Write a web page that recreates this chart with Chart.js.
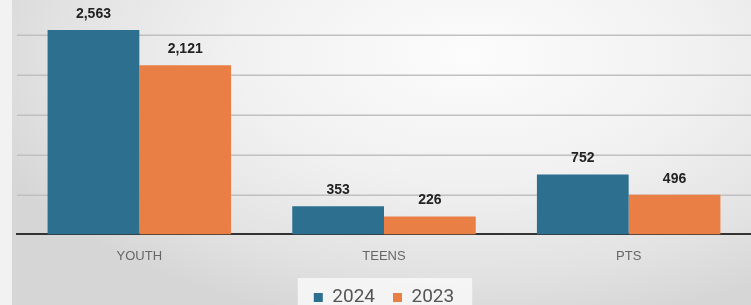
<!DOCTYPE html>
<html>
<head>
<meta charset="utf-8">
<script src="https://cdn.jsdelivr.net/npm/chart.js@4/dist/chart.umd.min.js"></script>
<style>
  html, body { margin: 0; padding: 0; }
  body { width: 751px; height: 305px; background: #f2f2f2; position: relative; overflow: hidden; }
  #bg { position: absolute; left: 12px; top: 0; width: 739px; height: 305px;
        background: radial-gradient(ellipse 70% 90% at 62% 18%, #fcfcfc 0%, #f1f1f1 45%, #e2e2e2 80%, #d6d6d6 100%); }
  #wrap { position: absolute; left: 0; top: 0; width: 751px; height: 305px; }
</style>
</head>
<body>
<div id="bg"></div>
<div id="wrap"><canvas id="c" width="751" height="305"></canvas></div>
<script>
const categories = ["YOUTH", "TEENS", "PTS"];
const seriesNames = ["2024", "2023"];
const values2024 = [2563, 353, 752];
const values2023 = [2121, 226, 496];
const gridValues = [500, 1000, 1500, 2000, 2500];

const gridLines = {
  id: 'gridLines',
  beforeDatasetsDraw(chart) {
    const y = chart.scales.y, a = chart.chartArea, ctx = chart.ctx;
    ctx.save();
    ctx.strokeStyle = '#c0c0c0';
    ctx.lineWidth = 1.5;
    gridValues.forEach(v => {
      const py = Math.round(y.getPixelForValue(v)) + 0.25;
      ctx.beginPath();
      ctx.moveTo(a.left, py);
      ctx.lineTo(a.right, py);
      ctx.stroke();
    });
    ctx.restore();
  }
};

const valueLabels = {
  id: 'valueLabels',
  afterDatasetsDraw(chart) {
    const ctx = chart.ctx;
    ctx.save();
    ctx.font = 'bold 14px "Liberation Sans", Arial, sans-serif';
    ctx.fillStyle = '#222';
    ctx.textAlign = 'center';
    ctx.textBaseline = 'middle';
    chart.data.datasets.forEach((ds, i) => {
      chart.getDatasetMeta(i).data.forEach((bar, j) => {
        ctx.fillText(ds.data[j].toLocaleString('en-US'), bar.x, bar.y - 16);
      });
    });
    ctx.restore();
  }
};

const legendBox = {
  id: 'legendBox',
  beforeDraw(chart) {
    const lg = chart.legend;
    if (!lg || !lg.legendHitBoxes || !lg.legendHitBoxes.length) return;
    const hb = lg.legendHitBoxes;
    let l = Infinity, r = -Infinity, t = Infinity;
    hb.forEach(b => { l = Math.min(l, b.left); r = Math.max(r, b.left + b.width); t = Math.min(t, b.top); });
    const ctx = chart.ctx;
    ctx.save();
    ctx.fillStyle = 'rgba(248,248,248,0.85)';
    ctx.fillRect(l - 16, t - 10, (r - l) + 34, 40);
    ctx.restore();
  }
};

new Chart(document.getElementById('c'), {
  type: 'bar',
  data: {
    labels: categories,
    datasets: [
      { label: seriesNames[0], data: values2024, backgroundColor: '#2d6f8e' },
      { label: seriesNames[1], data: values2023, backgroundColor: '#e97f45' }
    ]
  },
  options: {
    responsive: false,
    animation: false,
    devicePixelRatio: 1,
    layout: { padding: { left: 17, right: 0, top: 0, bottom: -12 } },
    datasets: { bar: { categoryPercentage: 0.75, barPercentage: 1.0 } },
    scales: {
      x: {
        grid: { display: false },
        border: { display: true, color: '#333', width: 2 },
        ticks: { color: '#666', padding: 6, font: { family: '"Liberation Sans", Arial, sans-serif', size: 13 } }
      },
      y: {
        display: false,
        min: 0, max: 2940
      }
    },
    plugins: {
      legend: {
        position: 'bottom',
        labels: {
          color: '#555',
          boxWidth: 9, boxHeight: 9,
          padding: 18,
          font: { family: 'Roboto, "Liberation Sans", sans-serif', size: 19 }
        }
      },
      tooltip: { enabled: false }
    }
  },
  plugins: [legendBox, gridLines, valueLabels]
});
</script>
</body>
</html>
